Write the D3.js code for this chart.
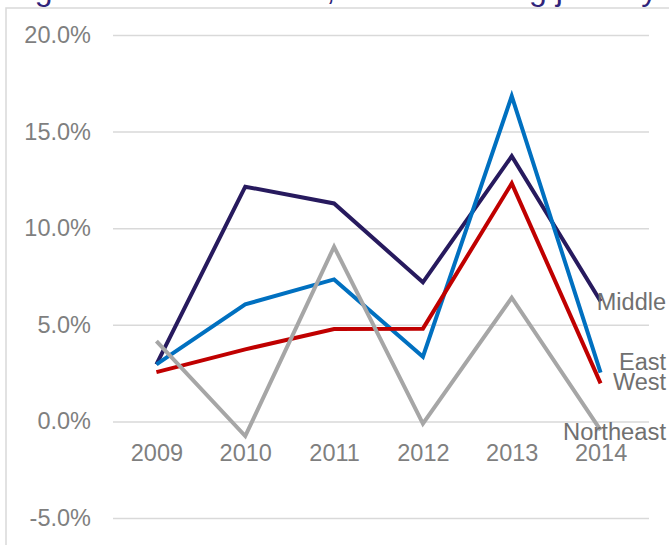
<!DOCTYPE html>
<html>
<head>
<meta charset="utf-8">
<script src="https://cdnjs.cloudflare.com/ajax/libs/d3/7.8.5/d3.min.js"></script>
<style>
  body { margin: 0; background: #fff; }
  svg { display: block; font-family: Arial, "Liberation Sans", sans-serif; }
</style>
</head>
<body>
<div id="chart"></div>
<script>
  // data (percent)
  var years = ['2009', '2010', '2011', '2012', '2013', '2014'];
  var middle = [2.95, 12.15, 11.28, 7.2, 13.73, 6.22];
  var east = [2.95, 6.06, 7.35, 3.35, 16.84, 2.52];
  var west = [2.55, 3.73, 4.78, 4.8, 12.32, 1.97];
  var northeast = [4.15, -0.76, 9.04, -0.12, 6.4, -0.45];
  var yTicks = [-5, 0, 5, 10, 15, 20];

  var series = [
    {name: 'Middle', values: middle, color: '#271a5e', labelY: 302},
    {name: 'East', values: east, color: '#0070c0', labelY: 362},
    {name: 'West', values: west, color: '#c00000', labelY: 382},
    {name: 'Northeast', values: northeast, color: '#a6a6a6', labelY: 432}
  ];

  var w = 669, h = 545;

  var svg = d3.select('#chart')
    .append('svg')
    .attr('width', w)
    .attr('height', h);

  // title, mostly cut off at the top of the crop
  svg.append('text')
    .attr('x', 8)
    .attr('y', 0)
    .style('font-size', '32px')
    .style('fill', '#30247a')
    .text('Figure 4. Growth rates, manufacturing jobs by region');

  // chart frame
  svg.append('rect')
    .attr('x', 6)
    .attr('y', 8)
    .attr('width', 720)
    .attr('height', 620)
    .style('fill', 'none')
    .style('stroke', '#d9d9d9')
    .style('stroke-width', 1.5);

  var x = d3.scalePoint()
    .domain(years)
    .range([112, 645])
    .padding(0.5);

  var y = d3.scaleLinear()
    .domain([-5, 20])
    .range([518, 35]);

  // plain hyphen for negatives, like the original
  var pct = d3.formatLocale({decimal: '.', thousands: ',', grouping: [3], currency: ['', ''], minus: '-'}).format('.1f');

  // gridlines + y labels
  var yAxis = d3.axisLeft(y)
    .tickValues(yTicks)
    .tickSize(-(649 - 113))
    .tickPadding(22)
    .tickFormat(function(d) { return pct(d) + '%'; });

  var gy = svg.append('g')
    .attr('transform', 'translate(113,0)')
    .call(yAxis);
  gy.select('.domain').remove();
  gy.selectAll('.tick line')
    .style('stroke', '#d9d9d9')
    .style('stroke-width', 1.5);
  gy.selectAll('.tick text')
    .attr('x', 91 - 113)
    .style('font-size', '23.5px')
    .style('font-family', 'Arial, "Liberation Sans", sans-serif')
    .style('fill', '#7f7f7f');

  // x labels
  var xAxis = d3.axisBottom(x).tickSize(0).tickPadding(0);
  var gx = svg.append('g')
    .attr('transform', 'translate(0,' + y(0) + ')')
    .call(xAxis);
  gx.select('.domain').remove();
  gx.selectAll('.tick text')
    .attr('dy', null)
    .attr('y', 40)
    .style('font-size', '23.5px')
    .style('font-family', 'Arial, "Liberation Sans", sans-serif')
    .style('fill', '#7f7f7f');

  var line = d3.line()
    .x(function(d, i) { return x(years[i]); })
    .y(function(d) { return y(d); });

  svg.selectAll('path.series')
    .data(series)
    .enter()
    .append('path')
    .attr('class', 'series')
    .attr('d', function(d) { return line(d.values); })
    .style('fill', 'none')
    .style('stroke', function(d) { return d.color; })
    .style('stroke-width', 4)
    .style('stroke-linejoin', 'miter');

  // series labels at the right end
  svg.selectAll('text.lbl')
    .data(series)
    .enter()
    .append('text')
    .attr('class', 'lbl')
    .attr('x', 666)
    .attr('y', function(d) { return d.labelY; })
    .attr('dy', '0.35em')
    .attr('text-anchor', 'end')
    .style('font-size', '23.5px')
    .style('fill', '#707070')
    .each(function(d) {
      if (d.name === 'Northeast') {
        d3.select(this).attr('textLength', 103).attr('lengthAdjust', 'spacingAndGlyphs');
      }
    })
    .text(function(d) { return d.name; });
</script>
</body>
</html>
